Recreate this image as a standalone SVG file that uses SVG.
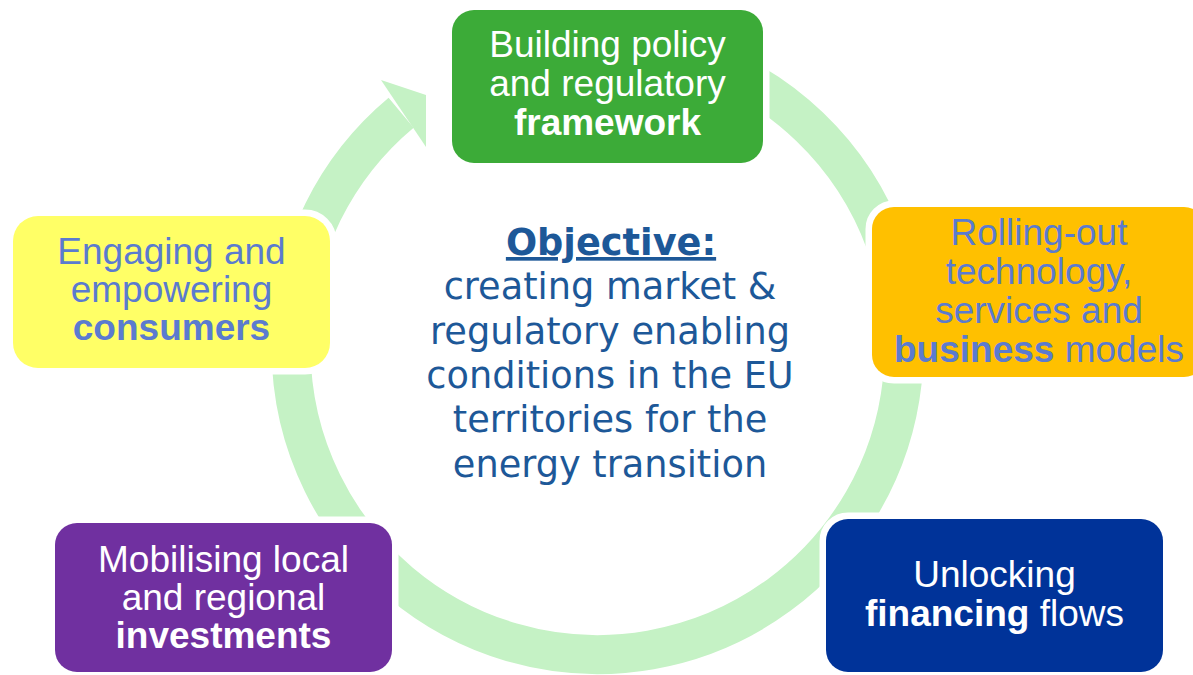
<svg xmlns="http://www.w3.org/2000/svg" width="1193" height="675" viewBox="0 0 1193 675">
<style>
.box{stroke:#ffffff;stroke-width:13;paint-order:stroke}
.t{font-family:"Liberation Sans",Arial,sans-serif;font-size:37px;text-anchor:middle}
.w{fill:#ffffff}
.b{fill:#5b7bcf}
.bold{font-weight:bold}
.obj{font-family:"DejaVu Sans",Verdana,sans-serif;font-size:36.7px;text-anchor:middle;fill:#1d5898}
</style>
<rect width="1193" height="675" fill="#ffffff"/>
<g id="connectors">
<path d="M702.3,60.0 A306.5,306.5 0 1 1 401.1,112.8" fill="none" stroke="#c5f2c5" stroke-width="39"/>
<polygon points="381,80 426,95 426,147" fill="#c5f2c5"/>
</g>
<g id="node-policy">
<rect class="box" x="452" y="10" width="311" height="153" rx="22" fill="#3cab38"/>
<text class="t w" x="607.5" y="57">Building policy</text>
<text class="t w" x="607.5" y="96">and regulatory</text>
<text class="t w bold" x="607.5" y="135">framework</text>
</g>
<g id="node-technology">
<rect class="box" x="872" y="207" width="334" height="170" rx="22" fill="#ffc000"/>
<text class="t b" x="1039" y="245">Rolling-out</text>
<text class="t b" x="1039" y="284">technology,</text>
<text class="t b" x="1039" y="323">services and</text>
<text class="t b" x="1039" y="362"><tspan class="bold">business</tspan> models</text>
</g>
<g id="node-consumers">
<rect class="box" x="13" y="216" width="317" height="152" rx="25" fill="#ffff66"/>
<text class="t b" x="171.5" y="264">Engaging and</text>
<text class="t b" x="171.5" y="302">empowering</text>
<text class="t b bold" x="171.5" y="340">consumers</text>
</g>
<g id="node-investments">
<rect class="box" x="55" y="523" width="337" height="149" rx="22" fill="#7030a0"/>
<text class="t w" x="223.5" y="572">Mobilising local</text>
<text class="t w" x="223.5" y="610">and regional</text>
<text class="t w bold" x="223.5" y="648">investments</text>
</g>
<g id="node-financing">
<rect class="box" x="826" y="519" width="337" height="153" rx="22" fill="#003399"/>
<text class="t w" x="994.5" y="587">Unlocking</text>
<text class="t w" x="994.5" y="626"><tspan class="bold">financing</tspan> flows</text>
</g>
<g id="objective">
<text class="obj" x="611" y="255" font-weight="bold" text-decoration="underline">Objective:</text>
<text class="obj" x="610" y="299">creating market &amp;</text>
<text class="obj" x="610" y="344">regulatory enabling</text>
<text class="obj" x="610" y="388">conditions in the EU</text>
<text class="obj" x="610" y="432">territories for the</text>
<text class="obj" x="610" y="477">energy transition</text>
</g>
</svg>
